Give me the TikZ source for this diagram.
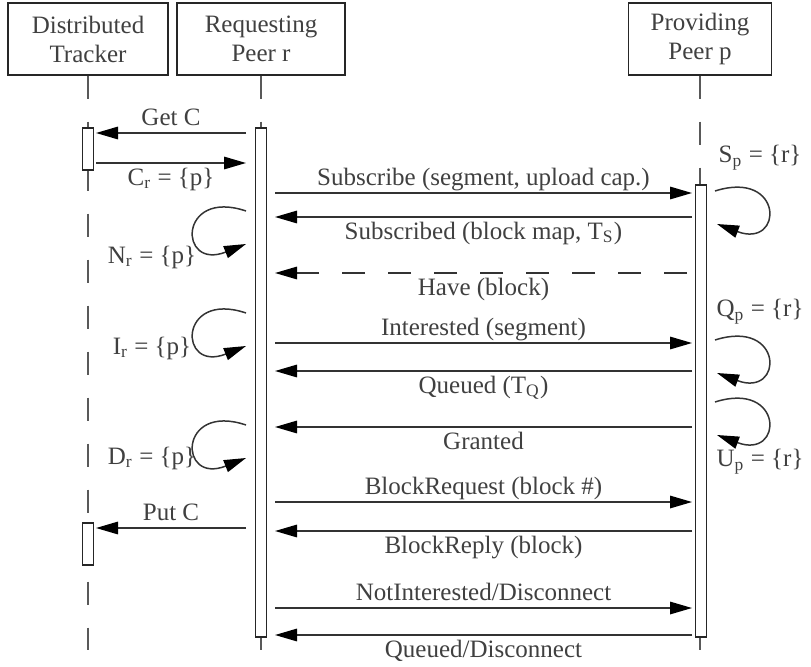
\documentclass[tikz,border=0pt]{standalone}
\usepackage{fontspec}
\setmainfont{Liberation Serif}
\usetikzlibrary{arrows.meta}

\begin{document}
\begin{tikzpicture}[
  x=0.4pt, y=-0.4pt,
  font=\fontsize{10pt}{11.6pt}\selectfont,
  text=black!75,
  hdr/.style={draw=black!85, line width=0.5pt, align=center,
    minimum height=28.8pt, inner sep=0pt},
  life/.style={draw=black!65, line width=0.5pt, dash pattern=on 9.2pt off 9.2pt},
  actbar/.style={draw=black!85, fill=white, line width=0.5pt,
    minimum width=4.6pt, inner sep=0pt},
  msg/.style={draw=black!80, line width=0.6pt,
    -{Triangle[length=8.8pt, width=5pt, color=black]}},
  lbl above/.style={above, inner ysep=0.6pt, text depth=2pt},
  lbl below/.style={below, inner ysep=1.5pt, text height=7pt},
  ]
  \useasboundingbox (0,0) rectangle (811,666);

  % participants
  \node[hdr, minimum width=64pt] (trk) at (88,39) {Distributed\\Tracker};
  \node[hdr, minimum width=67.2pt] (req) at (261,39) {Requesting\\Peer r};
  \node[hdr, minimum width=57.2pt] (prv) at (700,39) {Providing\\Peer p};

  % lifelines
  \coordinate (trk-end) at (88,650);
  \coordinate (req-end) at (261,650);
  \coordinate (prv-end) at (700,650);
  \draw[life] (trk.south) -- (trk-end);
  \draw[life] (req.south) -- (req-end);
  \draw[life] (prv.south) -- (prv-end);

  % activations
  \node[actbar, minimum height=16.8pt] (trk-act1) at (88,149) {};
  \node[actbar, minimum height=16.8pt] (trk-act2) at (88,544) {};
  \node[actbar, minimum height=203.6pt] (req-act) at (261,382.5) {};
  \node[actbar, minimum height=180.8pt] (prv-act) at (701,411) {};

  % message ends
  \foreach \n/\y in {getc/133, crp/163, putc/528}
    {\coordinate (\n-t) at (96,\y); \coordinate (\n-r) at (246,\y);}
  \foreach \n/\y in {sub/193, subd/217, have/273, intr/343, que/371,
                     grant/427, breq/502, brep/531, nint/608, qdis/635}
    {\coordinate (\n-r) at (275,\y); \coordinate (\n-p) at (692,\y);}

  \draw[msg] (getc-r) -- node[lbl above] {Get C} (getc-t);
  \draw[msg] (crp-t) -- node[lbl below] {C\textsubscript{r} = \{p\}} (crp-r);
  \draw[msg] (sub-r) -- node[lbl above] {Subscribe (segment, upload cap.)} (sub-p);
  \draw[msg] (subd-p) -- node[lbl below] {Subscribed (block map, T\textsubscript{S})} (subd-r);
  \draw[msg, dash pattern=on 9.2pt off 9.2pt, dash phase=16.4pt]
    (have-p) -- node[lbl below] {Have (block)} (have-r);
  \draw[msg] (intr-r) -- node[lbl above] {Interested (segment)} (intr-p);
  \draw[msg] (que-p) -- node[lbl below] {Queued (T\textsubscript{Q})} (que-r);
  \draw[msg] (grant-p) -- node[lbl below] {Granted} (grant-r);
  \draw[msg] (breq-r) -- node[lbl above] {BlockRequest (block \#)} (breq-p);
  \draw[msg] (putc-r) -- node[lbl above] {Put C} (putc-t);
  \draw[msg] (brep-p) -- node[lbl below] {BlockReply (block)} (brep-r);
  \draw[msg] (nint-r) -- node[lbl above] {NotInterested/Disconnect} (nint-p);
  \draw[msg] (qdis-p) -- node[lbl below] {Queued/Disconnect} (qdis-r);

  % state changes at r
  \foreach \n/\y/\ly/\sym in {nr/211/257/N, ir/313/348/I, dr/425/458/D}
    {\coordinate (\n-a) at (246,\y);
     \coordinate (\n-b) at (246,\y+33);
     \draw[msg] (\n-a) .. controls (178,\y-23) and (178,\y+60) .. (\n-b);
     \node (\n-lbl) at (152,\ly) {\sym\textsubscript{r} = \{p\}};}

  % state changes at p
  \foreach \n/\y/\ly/\sym in {sp/191/158/S, qp/340/312/Q, up/402/462/U}
    {\coordinate (\n-a) at (715,\y);
     \coordinate (\n-b) at (717,\y+33);
     \draw[msg] (\n-a) .. controls (784,\y-22) and (784,\y+58) .. (\n-b);
     \node (\n-lbl) at (760,\ly) {\sym\textsubscript{p} = \{r\}};}
\end{tikzpicture}
\end{document}
